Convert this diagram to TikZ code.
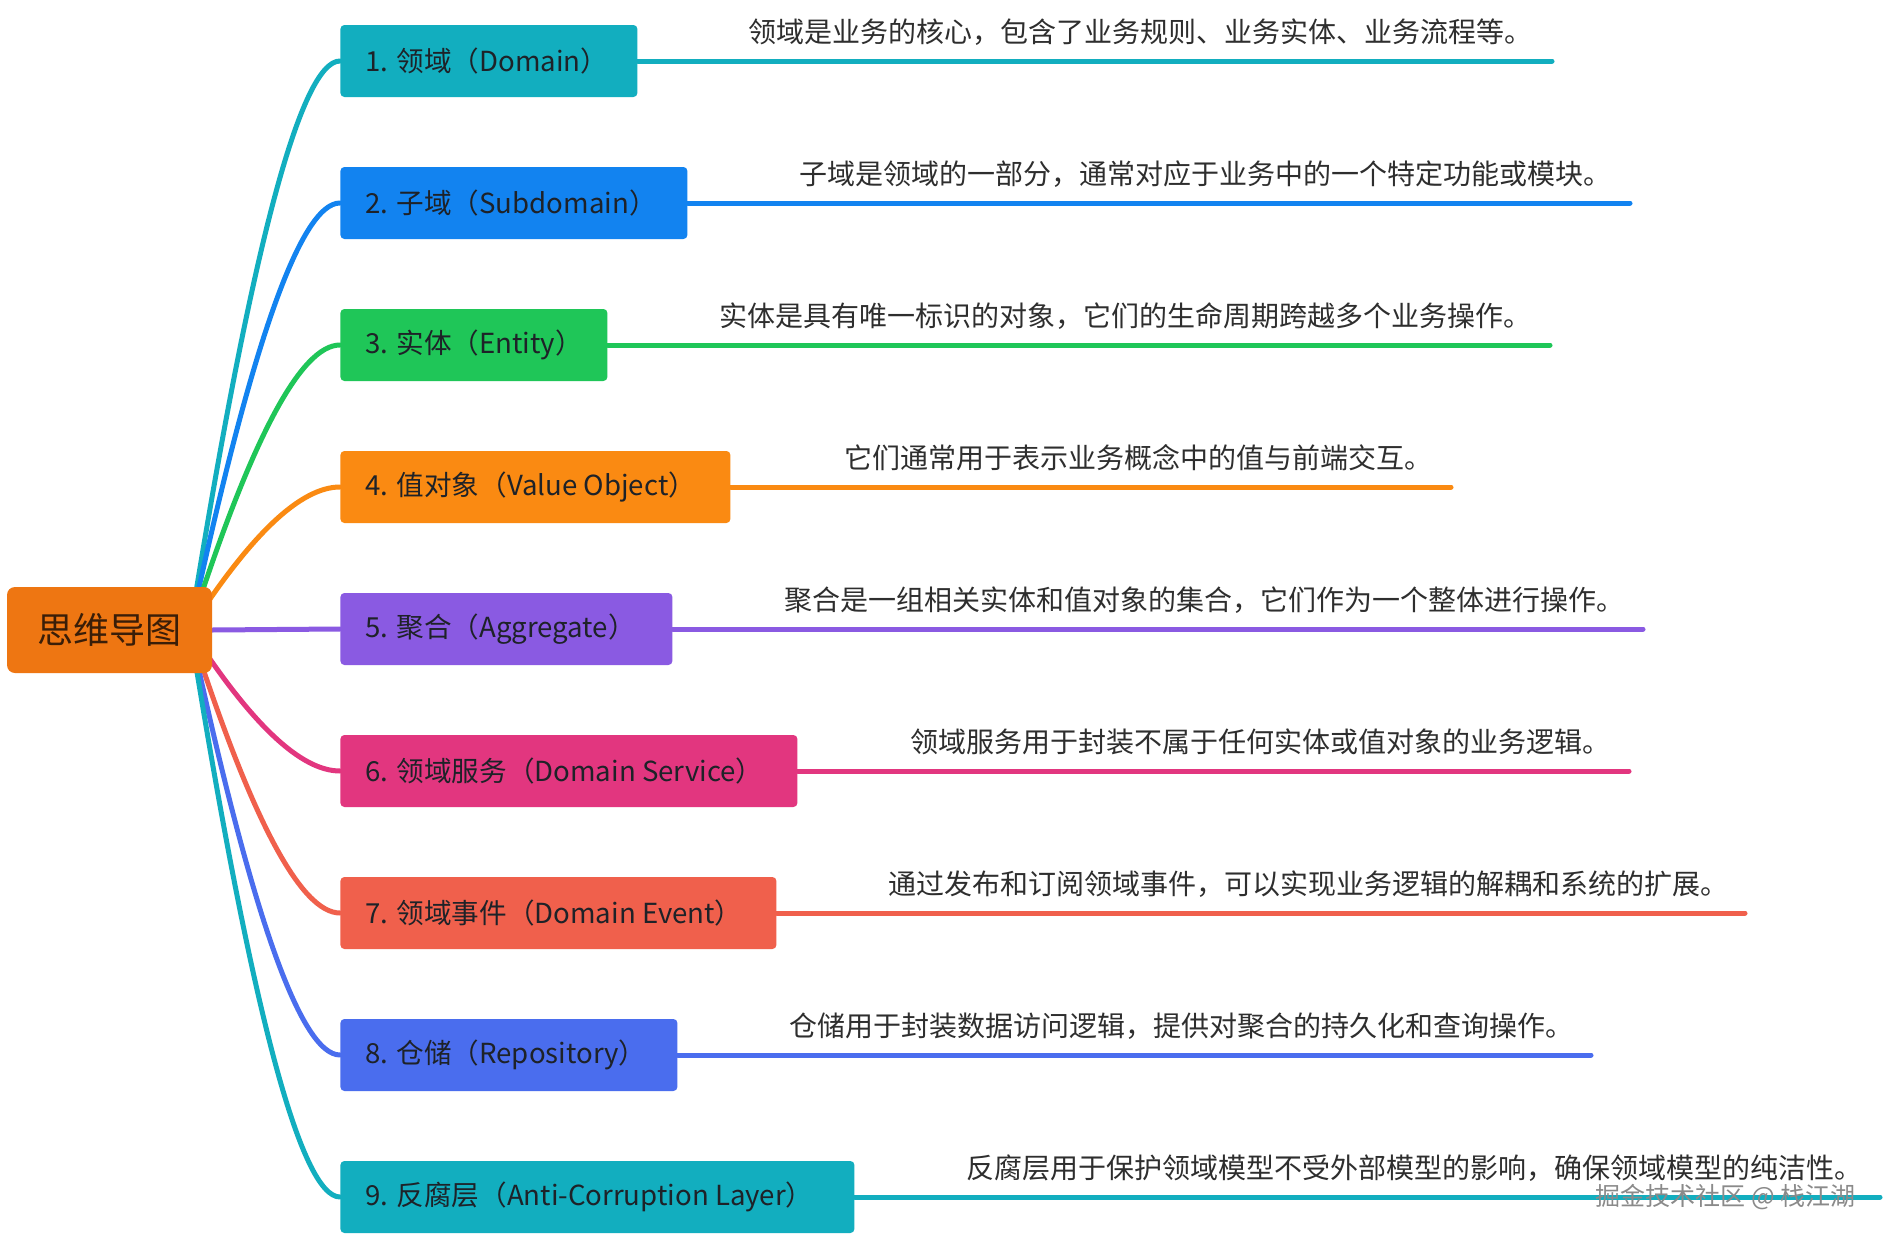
\documentclass[tikz,border=0pt]{standalone}
\usepackage{fontspec}
\setmainfont{Noto Sans CJK SC}
\usetikzlibrary{backgrounds}
\definecolor{cA}{HTML}{12AEBF}
\definecolor{cB}{HTML}{1283F0}
\definecolor{cC}{HTML}{1FC658}
\definecolor{cD}{HTML}{FA8A12}
\definecolor{cE}{HTML}{8A5AE2}
\definecolor{cF}{HTML}{E2367F}
\definecolor{cG}{HTML}{F0604C}
\definecolor{cH}{HTML}{4A6DEE}
\definecolor{rootc}{HTML}{EE7612}
\definecolor{roottext}{HTML}{3A1E08}
\definecolor{labeltext}{HTML}{1E2228}
\definecolor{desctext}{HTML}{2E2E2E}
\definecolor{wmark}{HTML}{8A8A8A}
\newcommand{\lbox}[2]{\makebox[#1][l]{#2}}
\tikzset{
  branchbox/.style={rectangle, rounded corners=2pt, inner xsep=12.5pt, inner ysep=0pt,
    minimum height=36pt, anchor=west,
    font=\fontsize{13.8pt}{16pt}\selectfont, text=labeltext},
  rootbox/.style={rectangle, rounded corners=4pt, fill=rootc, minimum width=102.5pt,
    minimum height=43pt, font=\fontsize{18pt}{21pt}\selectfont, text=roottext},
  desc/.style={anchor=west, inner sep=0pt, font=\fontsize{14pt}{17pt}\selectfont, text=desctext},
  conn/.style={line width=2.5pt, line cap=round},
}
\begin{document}
\begin{tikzpicture}[x=0.5pt,y=-0.5pt]
\useasboundingbox (0,0) rectangle (1886,1242);

\node[rootbox] (root) at (109.5,630) {思维导图};

\node[branchbox, fill=cA] (b1) at (340,61) {\lbox{123.5pt}{1. 领域（Domain）}};
\node[branchbox, fill=cB] (b2) at (340,203) {\lbox{148.5pt}{2. 子域（Subdomain）}};
\node[branchbox, fill=cC] (b3) at (340,345) {\lbox{108.5pt}{3. 实体（Entity）}};
\node[branchbox, fill=cD] (b4) at (340,487) {\lbox{170pt}{4. 值对象（Value Object）}};
\node[branchbox, fill=cE] (b5) at (340,629) {\lbox{141pt}{5. 聚合（Aggregate）}};
\node[branchbox, fill=cF] (b6) at (340,771) {\lbox{203.5pt}{6. 领域服务（Domain Service）}};
\node[branchbox, fill=cG] (b7) at (340,913) {\lbox{193pt}{7. 领域事件（Domain Event）}};
\node[branchbox, fill=cH] (b8) at (340,1055) {\lbox{143.5pt}{8. 仓储（Repository）}};
\node[branchbox, fill=cA] (b9) at (340,1197) {\lbox{232pt}{9. 反腐层（Anti-Corruption Layer）}};

\coordinate (rs) at (190,629);
\coordinate (e1) at (1552,61);
\coordinate (e2) at (1630,203);
\coordinate (e3) at (1550,345);
\coordinate (e4) at (1451,487);
\coordinate (e5) at (1643,629);
\coordinate (e6) at (1629,771);
\coordinate (e7) at (1745,913);
\coordinate (e8) at (1591,1055);
\coordinate (e9) at (1880,1197);

\begin{scope}[on background layer]
\fill[white] (0,0) rectangle (1886,1242);
\draw[conn, cA] (rs) .. controls (250.7,250.3) and (300.7,61) .. (b1.west);
\draw[conn, cB] (rs) .. controls (250.7,345) and (300.7,203) .. (b2.west);
\draw[conn, cC] (rs) .. controls (250.7,439.7) and (300.7,345) .. (b3.west);
\draw[conn, cD] (rs) .. controls (250.7,534.3) and (300.7,487) .. (b4.west);
\draw[conn, cE] (root.east) -- (b5.west);
\draw[conn, cF] (rs) .. controls (250.7,723.7) and (300.7,771) .. (b6.west);
\draw[conn, cG] (rs) .. controls (250.7,818.3) and (300.7,913) .. (b7.west);
\draw[conn, cH] (rs) .. controls (250.7,913) and (300.7,1055) .. (b8.west);
\draw[conn, cA] (rs) .. controls (250.7,1007.7) and (300.7,1197) .. (b9.west);
\draw[conn, cA] (b1.east) -- (e1);
\draw[conn, cB] (b2.east) -- (e2);
\draw[conn, cC] (b3.east) -- (e3);
\draw[conn, cD] (b4.east) -- (e4);
\draw[conn, cE] (b5.east) -- (e5);
\draw[conn, cF] (b6.east) -- (e6);
\draw[conn, cG] (b7.east) -- (e7);
\draw[conn, cH] (b8.east) -- (e8);
\draw[conn, cA] (b9.east) -- (e9);
\end{scope}

\node[desc] (d1) at (748,32) {领域是业务的核心，包含了业务规则、业务实体、业务流程等。};
\node[desc] (d2) at (799,174) {子域是领域的一部分，通常对应于业务中的一个特定功能或模块。};
\node[desc] (d3) at (719,316) {实体是具有唯一标识的对象，它们的生命周期跨越多个业务操作。};
\node[desc] (d4) at (844,458) {它们通常用于表示业务概念中的值与前端交互。};
\node[desc] (d5) at (784,600) {聚合是一组相关实体和值对象的集合，它们作为一个整体进行操作。};
\node[desc] (d6) at (910,742) {领域服务用于封装不属于任何实体或值对象的业务逻辑。};
\node[desc] (d7) at (888,884) {通过发布和订阅领域事件，可以实现业务逻辑的解耦和系统的扩展。};
\node[desc] (d8) at (789,1026) {仓储用于封装数据访问逻辑，提供对聚合的持久化和查询操作。};
\node[desc] (d9) at (966,1168) {反腐层用于保护领域模型不受外部模型的影响，确保领域模型的纯洁性。};

\node[anchor=west, inner sep=0pt, font=\fontsize{12.5pt}{15pt}\selectfont, text=wmark] (wm) at (1595,1197) {掘金技术社区 @ 栈江湖};
\end{tikzpicture}
\end{document}
